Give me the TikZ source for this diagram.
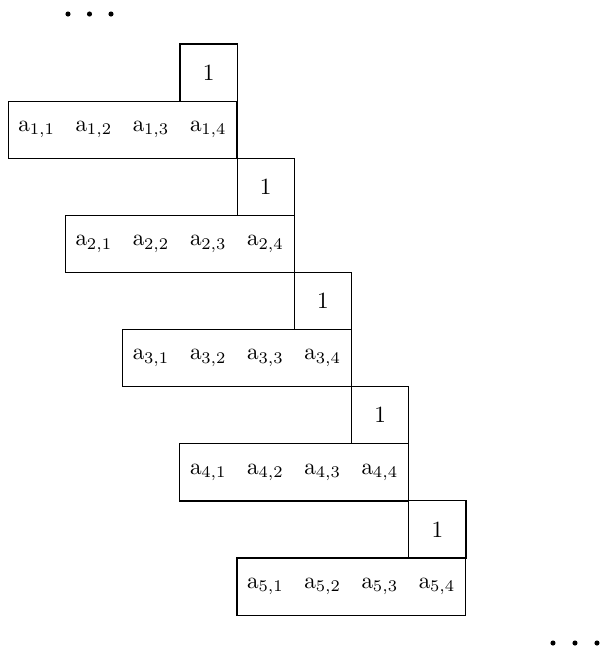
\documentclass[tikz,border=0pt]{standalone}
\begin{document}
\begin{tikzpicture}[x=0.43pt,y=-0.43pt,
  onebox/.style={draw,line width=0.5pt,minimum width=24.6pt,minimum height=24.6pt,inner sep=0pt},
  rowbox/.style={draw,line width=0.5pt,minimum width=98.4pt,minimum height=24.6pt,inner sep=0pt},
  celltext/.style={inner sep=0pt},
  dot/.style={circle,fill=black,inner sep=0pt,minimum size=2.2pt}]
\useasboundingbox (0,0) rectangle (601,647);
\foreach \k in {1,...,5}{
  \pgfmathsetmacro{\dx}{57.2*(\k-1)}
  \pgfmathsetmacro{\dy}{114.2*(\k-1)}
  \node[onebox] (o\k) at (208.6+\dx,72.6+\dy) {1};
  \node[rowbox] (r\k) at (122.6+\dx,129.8+\dy) {};
  \foreach \j in {1,...,4}{
    \pgfmathsetmacro{\cx}{36.6+57.2*(\j-1)+\dx}
    \node[celltext] (a\k\j) at (\cx,129.8+\dy) {$\mathrm{a}_{\k,\j}$};
  }
}
\node[dot] (t1) at (68,14) {};
\node[dot] (t2) at (89.5,14) {};
\node[dot] (t3) at (111,14) {};
\node[dot] (b1) at (553,643) {};
\node[dot] (b2) at (575,643) {};
\node[dot] (b3) at (597,643) {};
\end{tikzpicture}
\end{document}
